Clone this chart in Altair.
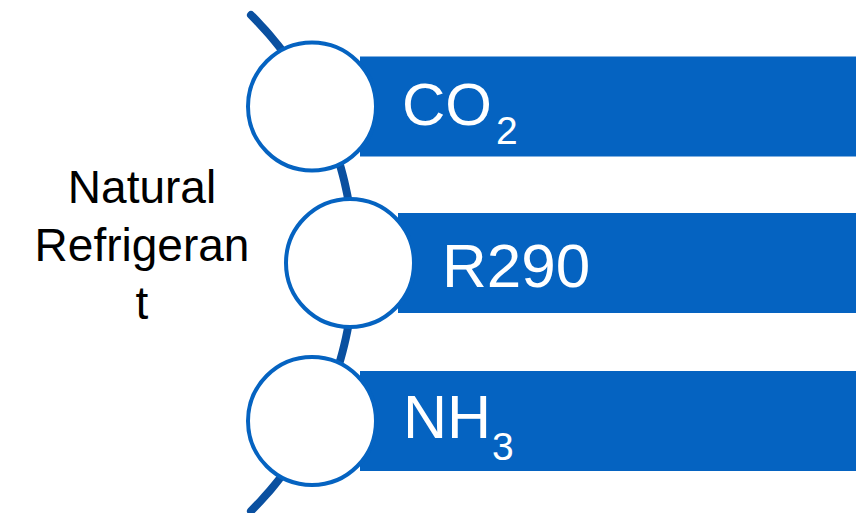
import math
import altair as alt
import pandas as pd

# ---- content ----
items = ["CO", "R290", "NH"]          # main text on each bar
subscripts = ["2", "", "3"]           # chemical-formula subscripts
label_lines = ["Natural", "Refrigeran", "t"]

# ---- layout (page pixel units) ----
row_y = [106.5, 263, 421]             # centre of each row
circle_x = [312, 350, 312]            # centre of each circle
bar_right = 858
bar_half = 50
circle_r = 64
text_dx = [90, 92, 91]
text_dy = [18, 24, 17]
text_size = [60, 62, 61]
sub_dx = [184, 0, 180]
sub_dy = [37, 0, 39]
sub_size = 39

arc_cx, arc_cy, arc_r = 4, 263, 350
arc_y0, arc_y1 = 15, 511

BAR = "#0563C1"
ARC = "#0A50A0"

W, H = 848, 505
X0, Y0 = 8, 8

xs = alt.Scale(domain=[X0, X0 + W], zero=False, nice=False)
ys = alt.Scale(domain=[Y0, Y0 + H], reverse=True, zero=False, nice=False)

def X(f):
    return alt.X(f, type="quantitative", scale=xs, axis=None)

def Y(f):
    return alt.Y(f, type="quantitative", scale=ys, axis=None)

# arc polyline
n = 80
a0 = math.asin((arc_y0 - arc_cy) / arc_r)
a1 = math.asin((arc_y1 - arc_cy) / arc_r)
arc_df = pd.DataFrame({
    "i": list(range(n + 1)),
    "x": [arc_cx + arc_r * math.cos(a0 + (a1 - a0) * k / n) for k in range(n + 1)],
    "y": [arc_cy + arc_r * math.sin(a0 + (a1 - a0) * k / n) for k in range(n + 1)],
})

rows = pd.DataFrame({
    "item": items,
    "sub": subscripts,
    "cx": circle_x,
    "cy": row_y,
    "bx": [c + 48 for c in circle_x],
    "bx2": [bar_right] * 3,
    "by": [r - bar_half for r in row_y],
    "by2": [r + bar_half for r in row_y],
    "tx": [c + d for c, d in zip(circle_x, text_dx)],
    "ty": [r + d for r, d in zip(row_y, text_dy)],
    "tsize": text_size,
    "sx": [c + d for c, d in zip(circle_x, sub_dx)],
    "sy": [r + d for r, d in zip(row_y, sub_dy)],
})

arc = alt.Chart(arc_df).mark_line(
    color=ARC, strokeWidth=8, strokeCap="round", strokeJoin="round"
).encode(x=X("x"), y=Y("y"), order="i:Q")

bars = alt.Chart(rows).mark_rect(color=BAR).encode(
    x=X("bx"), x2="bx2", y=Y("by"), y2="by2"
)

circles = alt.Chart(rows).mark_point(
    shape="circle", filled=False, fill="white", fillOpacity=1,
    stroke=BAR, strokeWidth=4, opacity=1, size=(2 * circle_r) ** 2
).encode(x=X("cx"), y=Y("cy"))

texts = alt.Chart(rows).mark_text(
    color="white", align="left", baseline="alphabetic", font="Liberation Sans"
).encode(
    x=X("tx"), y=Y("ty"), text="item:N",
    size=alt.Size("tsize:Q", scale=None, legend=None)
)

subs = alt.Chart(rows[rows["sub"] != ""]).mark_text(
    color="white", align="left", baseline="alphabetic", font="Liberation Sans",
    fontSize=sub_size
).encode(x=X("sx"), y=Y("sy"), text="sub:N")

label_df = pd.DataFrame({
    "line": label_lines,
    "x": [142] * 3,
    "y": [203 + 58 * k for k in range(3)],
})
label = alt.Chart(label_df).mark_text(
    color="black", align="center", baseline="alphabetic",
    font="Liberation Sans", fontSize=46
).encode(x=X("x"), y=Y("y"), text="line:N")

chart = alt.layer(arc, bars, circles, texts, subs, label).properties(
    width=W, height=H, padding=0, background="white",
    autosize=alt.AutoSizeParams(type="none"),
).configure_view(stroke=None)

chart.save("out.html", embed_options={"renderer": "svg", "actions": False})
